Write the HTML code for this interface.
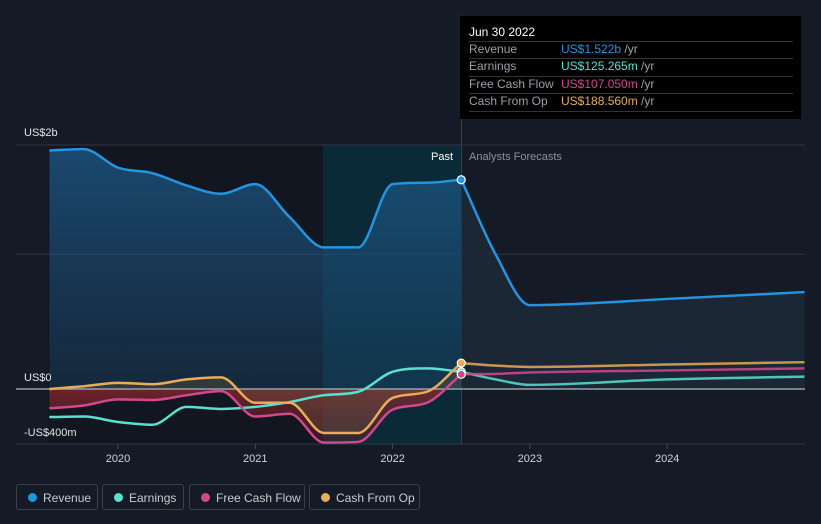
<!DOCTYPE html>
<html><head><meta charset="utf-8"><style>
body{margin:0;background:#151b26;font-family:"Liberation Sans",sans-serif;}
svg{display:block}
.leg{position:absolute;top:484px;height:26px;border:1px solid #3a404b;border-radius:3px;color:#c8cbd0;font-size:12px;line-height:26px;box-sizing:border-box;padding-left:26px}
.leg i{position:absolute;left:11px;top:8px;width:9px;height:9px;border-radius:50%}
</style></head><body>
<div style="position:relative;width:821px;height:524px;overflow:hidden">
<svg id="c" width="821" height="524"></svg>
<div class="leg" style="left:16px;width:82px"><i style="background:#2394df"></i>Revenue</div>
<div class="leg" style="left:102px;width:82px"><i style="background:#58e1cf"></i>Earnings</div>
<div class="leg" style="left:189px;width:116px"><i style="background:#d1488f"></i>Free Cash Flow</div>
<div class="leg" style="left:309px;width:111px"><i style="background:#e8ac5a"></i>Cash From Op</div>
<div style="position:absolute;left:460px;top:16px;width:341px;height:103px;background:#000;font-size:12px;color:#9aa0a8">
<div style="position:absolute;left:9px;top:9px;color:#fff;font-size:12px">Jun 30 2022</div>
<div style="position:absolute;left:9px;right:8px;top:25px;border-top:1px solid #333"></div>
<div style="position:absolute;left:9px;top:26px">Revenue</div><div style="position:absolute;left:101px;top:26px"><span style="color:#2394df">US$1.522b</span> /yr</div>
<div style="position:absolute;left:9px;right:8px;top:42px;border-top:1px solid #333"></div>
<div style="position:absolute;left:9px;top:43px">Earnings</div><div style="position:absolute;left:101px;top:43px"><span style="color:#58e1cf">US$125.265m</span> /yr</div>
<div style="position:absolute;left:9px;right:8px;top:60px;border-top:1px solid #333"></div>
<div style="position:absolute;left:9px;top:61px">Free Cash Flow</div><div style="position:absolute;left:101px;top:61px"><span style="color:#d1488f">US$107.050m</span> /yr</div>
<div style="position:absolute;left:9px;right:8px;top:77px;border-top:1px solid #333"></div>
<div style="position:absolute;left:9px;top:78px">Cash From Op</div><div style="position:absolute;left:101px;top:78px"><span style="color:#e8ac5a">US$188.560m</span> /yr</div>
<div style="position:absolute;left:9px;right:8px;top:95px;border-top:1px solid #333"></div>
</div>
</div>
<script>
const years=[2019.5,2019.75,2020,2020.25,2020.5,2020.75,2021,2021.25,2021.5,2021.75,2022,2022.25,2022.5];
const revenue=[1.735,1.745,1.61,1.57,1.48,1.42,1.49,1.25,1.03,1.03,1.49,1.50,1.522];
const earnings=[-0.204,-0.2,-0.24,-0.26,-0.13,-0.145,-0.13,-0.095,-0.045,-0.02,0.125,0.15,0.125];
const fcf=[-0.14,-0.12,-0.075,-0.08,-0.045,-0.015,-0.2,-0.18,-0.39,-0.385,-0.15,-0.1,0.107];
const cfo=[0,0.02,0.045,0.035,0.07,0.085,-0.1,-0.1,-0.32,-0.32,-0.065,-0.02,0.1886];
const fYears=[2022.5,2022.75,2023,2024,2025];
const fRevenue=[1.522,0.98,0.61,0.655,0.705];
const fEarnings=[0.125,0.07,0.03,0.07,0.09];
const fFcf=[0.107,0.11,0.12,0.135,0.15];
const fCfo=[0.1886,0.17,0.16,0.178,0.195];
const xTicks=[2020,2021,2022,2023,2024];

const NS="http://www.w3.org/2000/svg",svg=document.getElementById('c');
const X=t=>118+(t-2020)*137.3;
const Y=v=>389-v*137.5;
function el(tag,a,parent){const e=document.createElementNS(NS,tag);for(const k in a)e.setAttribute(k,a[k]);(parent||svg).appendChild(e);return e;}
function path(xs,vs){
 const p=xs.map((t,i)=>[X(t),Y(vs[i])]);const n=p.length;
 const d=[],m=[];
 for(let i=0;i<n-1;i++)d.push((p[i+1][1]-p[i][1])/(p[i+1][0]-p[i][0]));
 for(let i=0;i<n;i++){if(i==0)m.push(d[0]);else if(i==n-1)m.push(d[n-2]);else m.push(d[i-1]*d[i]<=0?0:(d[i-1]+d[i])/2);}
 for(let i=0;i<n-1;i++){if(d[i]==0){m[i]=0;m[i+1]=0;continue;}const a=m[i]/d[i],b=m[i+1]/d[i],s=a*a+b*b;if(s>9){const t=3/Math.sqrt(s);m[i]=t*a*d[i];m[i+1]=t*b*d[i];}}
 let s=`M${p[0][0]},${p[0][1]}`;
 for(let i=0;i<n-1;i++){const h=(p[i+1][0]-p[i][0])/3;s+=` C${p[i][0]+h},${p[i][1]+m[i]*h} ${p[i+1][0]-h},${p[i+1][1]-m[i+1]*h} ${p[i+1][0]},${p[i+1][1]}`;}
 return s;}
const defs=el('defs',{});
defs.innerHTML='<linearGradient id="rg" x1="0" y1="0" x2="0" y2="1"><stop offset="0" stop-color="#1d5a8a" stop-opacity="0.75"/><stop offset="1" stop-color="#1d4a70" stop-opacity="0.35"/></linearGradient><linearGradient id="ng" x1="0" y1="0" x2="0" y2="1"><stop offset="0" stop-color="#a02a2a" stop-opacity="0.8"/><stop offset="1" stop-color="#7a2030" stop-opacity="0.3"/></linearGradient><clipPath id="neg"><rect x="0" y="389" width="821" height="200"/></clipPath>';
el('rect',{x:48,y:145,width:275,height:299,fill:'#111620',});
el('rect',{x:323,y:145,width:138,height:299,fill:'#0b2a38',});
el('rect',{x:461,y:15,width:1,height:429,fill:'#24465a',});
[1.775,0.98,-0.4].forEach(v=>{const g=el('line',{x1:16,x2:805,y1:Y(v),y2:Y(v),stroke:'#2e3542','stroke-width':1});});
const rp=path(years,revenue);
el('path',{d:rp+` L${X(2022.5)},${Y(0)} L${X(2019.5)},${Y(0)} Z`,fill:'url(#rg)',});
const frp=path(fYears,fRevenue);
el('path',{d:frp+` L${X(2025)},${Y(0)} L${X(2022.5)},${Y(0)} Z`,fill:'#1e2a3a',opacity:0.8,});
el('path',{d:path(years,fcf)+` L${X(2022.5)},${Y(0)} L${X(2019.5)},${Y(0)} Z`,fill:'url(#ng)','clip-path':'url(#neg)',});
el('path',{d:path(years,cfo)+` L${X(2022.5)},${Y(0)} L${X(2019.5)},${Y(0)} Z`,fill:'#6b5a40',opacity:0.35,});
el('line',{x1:16,x2:805,y1:Y(0),y2:Y(0),stroke:'#9aa0a8','stroke-width':1.5,});
const series=[[earnings,fEarnings,'#58e1cf','earnings'],[fcf,fFcf,'#d1488f','free-cash-flow'],[cfo,fCfo,'#e8ac5a','cash-from-op'],[revenue,fRevenue,'#2394df','revenue']];
series.forEach(([v,fv,c,n])=>{
 const a=el('path',{d:path(years,v),fill:'none',stroke:c,'stroke-width':2.5});
 
 const b=el('path',{d:path(fYears,fv),fill:'none',stroke:c,'stroke-width':2.5,opacity:n==='revenue'?1:0.85});
 
 const m=el('circle',{cx:X(2022.5),cy:Y(v[v.length-1]),r:4,fill:c,stroke:'#fff','stroke-width':1.2});
 
});
xTicks.forEach(t=>{
 const l=el('line',{x1:X(t),x2:X(t),y1:444,y2:449,stroke:'#444b56'});
 const tx=el('text',{x:X(t),y:462,fill:'#d0d3d8','font-size':11,'text-anchor':'middle'});tx.textContent=t;
 
});
[['US$2b',136],['US$0',381],['-US$400m',436]].forEach(([s,y])=>{const t=el('text',{x:24,y:y,fill:'#e0e3e8','font-size':11});t.textContent=s;});
const p1=el('text',{x:453,y:160,fill:'#fff','font-size':11,'text-anchor':'end'});p1.textContent='Past';
const p2=el('text',{x:469,y:160,fill:'#8c929a','font-size':11});p2.textContent='Analysts Forecasts';
</script>
</body></html>
